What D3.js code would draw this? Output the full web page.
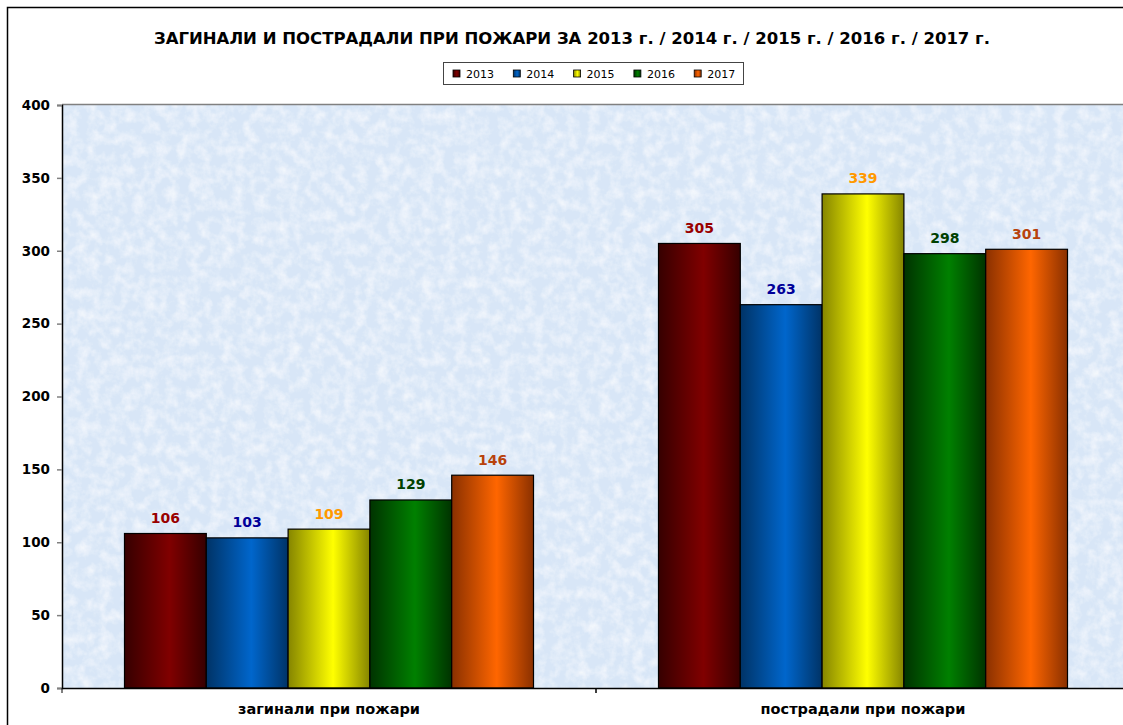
<!DOCTYPE html>
<html lang="bg">
<head>
<meta charset="UTF-8">
<title>Загинали и пострадали при пожари</title>
<script src="https://d3js.org/d3.v7.min.js"></script>
<style>
  body { margin: 0; background: #fff; }
  text { font-family: "DejaVu Sans", Arial, sans-serif; }
</style>
</head>
<body>
<svg width="1123" height="725"></svg>
<script>
// data
const categories = ["загинали при пожари", "пострадали при пожари"];
const years = ["2013", "2014", "2015", "2016", "2017"];
const values2013 = [106, 305];
const values2014 = [103, 263];
const values2015 = [109, 339];
const values2016 = [129, 298];
const values2017 = [146, 301];
const yTicks = [0, 50, 100, 150, 200, 250, 300, 350, 400];

const seriesValues = [values2013, values2014, values2015, values2016, values2017];

// colours: bright centre, dark edge, label colour
const brightCol = ["#800000", "#0066cc", "#ffff00", "#008000", "#ff6600"];
const darkCol = ["#360000", "#003366", "#858500", "#003300", "#8a3000"];
const labelCol = ["#990000", "#000099", "#ff9900", "#004000", "#b8420c"];

const svg = d3.select("svg");
const margin = { top: 105, left: 62, bottom: 688, right: 1130 };

const defs = svg.append("defs");
years.forEach((yr, i) => {
  const g = defs.append("linearGradient").attr("id", "grad" + i)
    .attr("x1", "0").attr("x2", "1").attr("y1", "0").attr("y2", "0");
  g.append("stop").attr("offset", "0").attr("stop-color", darkCol[i]);
  g.append("stop").attr("offset", "0.55").attr("stop-color", brightCol[i]);
  g.append("stop").attr("offset", "1").attr("stop-color", darkCol[i]);
});

// textured light blue background
const filt = defs.append("filter").attr("id", "tex")
  .attr("x", 0).attr("y", 0).attr("width", 1).attr("height", 1);
filt.append("feTurbulence").attr("type", "fractalNoise")
  .attr("baseFrequency", "0.09").attr("numOctaves", 4).attr("seed", 3).attr("result", "n");
filt.append("feColorMatrix").attr("in", "n").attr("type", "matrix")
  .attr("values", "0 0 0 0 1  0 0 0 0 1  0 0 0 0 1  1.2 0 0 0 -0.45").attr("result", "w");
filt.append("feComposite").attr("in", "w").attr("in2", "SourceGraphic").attr("operator", "over");

// outer chart frame
svg.append("rect")
  .attr("x", 7.5).attr("y", 7.5).attr("width", 1140).attr("height", 740)
  .attr("fill", "#fff").attr("stroke", "#000").attr("stroke-width", 1.5);

// title
svg.append("text")
  .attr("x", 572).attr("y", 44)
  .attr("text-anchor", "middle")
  .style("font-size", "16.5px").style("font-weight", "bold")
  .text("ЗАГИНАЛИ И ПОСТРАДАЛИ ПРИ ПОЖАРИ ЗА 2013 г. / 2014 г. / 2015 г. / 2016 г. / 2017 г.");

// legend
const legend = svg.append("g").attr("transform", "translate(443,62)");
legend.append("rect").attr("x", 0.5).attr("y", 0.5).attr("width", 300).attr("height", 22)
  .attr("fill", "#fff").attr("stroke", "#444").attr("stroke-width", 1);
years.forEach((yr, i) => {
  const lx = 10 + i * 60.3;
  legend.append("rect").attr("x", lx).attr("y", 8).attr("width", 7).attr("height", 7)
    .attr("fill", "url(#grad" + i + ")").attr("stroke", "#000").attr("stroke-width", 0.8);
  legend.append("text").attr("x", lx + 13).attr("y", 16)
    .style("font-size", "11px").text(yr);
});

// scales
const x = d3.scaleBand().domain(categories).range([margin.left, margin.right]).padding(0);
const xInner = d3.scaleBand().domain(years).range([0, x.bandwidth()])
  .paddingInner(0).paddingOuter(0.764);
const y = d3.scaleLinear().domain([0, 400]).range([margin.bottom, margin.top]);

// plot area
svg.append("rect")
  .attr("x", margin.left).attr("y", margin.top)
  .attr("width", margin.right - margin.left).attr("height", margin.bottom - margin.top)
  .attr("fill", "#d8e6f7").attr("filter", "url(#tex)");
svg.append("line")
  .attr("x1", margin.left).attr("x2", margin.right)
  .attr("y1", margin.top - 0.5).attr("y2", margin.top - 0.5)
  .attr("stroke", "#808080").attr("stroke-width", 1.5);

// bars
const groups = svg.selectAll("g.cat").data(categories).enter().append("g")
  .attr("class", "cat")
  .attr("transform", d => `translate(${x(d)},0)`);

groups.each(function (cat, ci) {
  const g = d3.select(this);
  years.forEach((yr, si) => {
    const v = seriesValues[si][ci];
    g.append("rect")
      .attr("x", xInner(yr)).attr("y", y(v))
      .attr("width", xInner.bandwidth()).attr("height", y(0) - y(v))
      .attr("fill", "url(#grad" + si + ")")
      .attr("stroke", "#000").attr("stroke-width", 1.2);
    g.append("text")
      .attr("x", xInner(yr) + xInner.bandwidth() / 2).attr("y", y(v) - 10.5)
      .attr("text-anchor", "middle")
      .style("font-size", "14px").style("font-weight", "bold")
      .attr("fill", labelCol[si])
      .text(v);
  });
});

// y axis
const yAxis = svg.append("g")
  .attr("transform", `translate(${margin.left},0)`)
  .call(d3.axisLeft(y).tickValues(yTicks).tickSize(5).tickPadding(7));
yAxis.select(".domain").attr("stroke", "#000").attr("stroke-width", 1.5);
yAxis.selectAll(".tick line").attr("stroke", "#808080").attr("stroke-width", 1.5);
yAxis.selectAll(".tick text")
  .style("font-size", "13.5px").style("font-weight", "bold")
  .style("font-family", "'DejaVu Sans', Arial, sans-serif").attr("fill", "#000");

// x axis
const xAxis = svg.append("g")
  .attr("transform", `translate(0,${margin.bottom})`)
  .call(d3.axisBottom(x).tickSize(0).tickPadding(16));
xAxis.select(".domain").attr("stroke", "#000").attr("stroke-width", 1.5);
xAxis.selectAll(".tick text")
  .style("font-size", "14.5px").style("font-weight", "bold")
  .style("font-family", "'DejaVu Sans', Arial, sans-serif").attr("fill", "#000");
categories.forEach(c => {
  [x(c), x(c) + x.bandwidth()].forEach(px => {
    svg.append("line").attr("x1", px).attr("x2", px)
      .attr("y1", margin.bottom).attr("y2", margin.bottom + 5)
      .attr("stroke", "#000").attr("stroke-width", 1);
  });
});
</script>
</body>
</html>
